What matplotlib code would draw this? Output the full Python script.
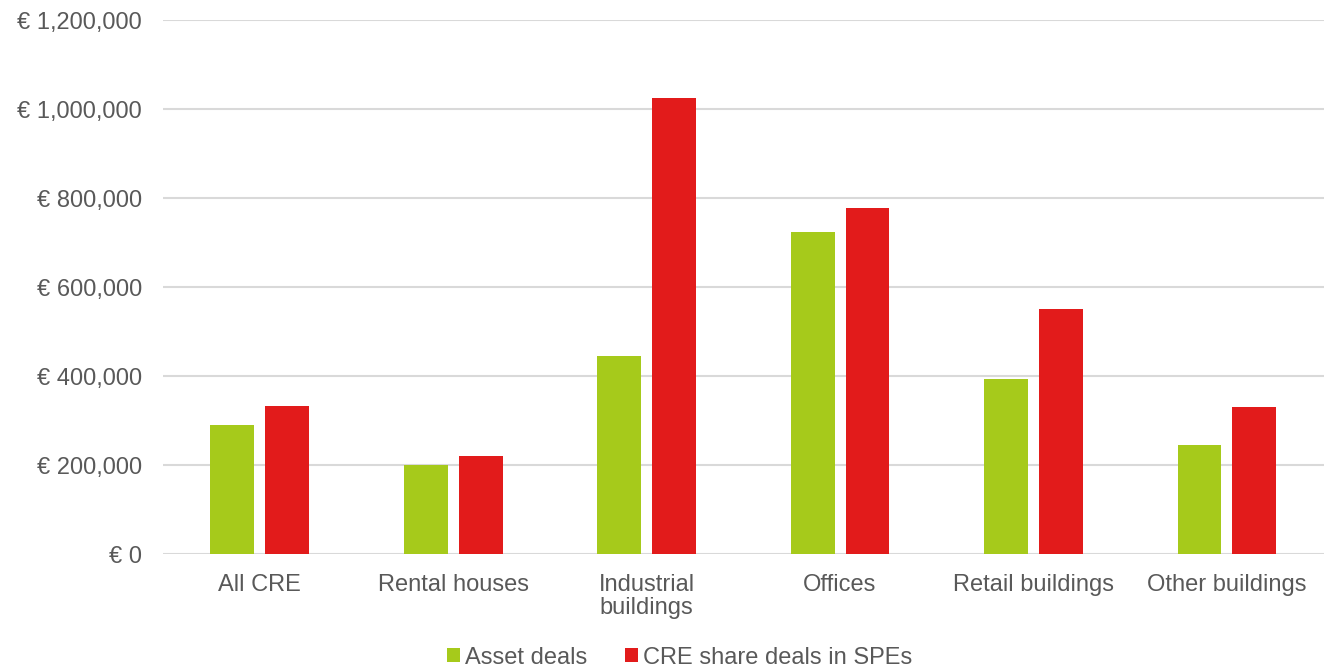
import numpy as np
import matplotlib.pyplot as plt
from matplotlib.ticker import FuncFormatter

plt.rcParams['font.family'] = ['Liberation Sans', 'DejaVu Sans']

categories = ["All CRE", "Rental houses", "Industrial\nbuildings", "Offices",
              "Retail buildings", "Other buildings"]
asset_deals = [291000, 200000, 445000, 723000, 394000, 245000]
share_deals = [334000, 220000, 1025000, 778000, 552000, 330000]
series_labels = ["Asset deals", "CRE share deals in SPEs"]

green = "#A6CA1B"
red = "#E21B1B"
text_col = "#595959"
grid_col = "#D9D9D9"

fig = plt.figure(figsize=(13.25, 6.71), dpi=100)
ax = fig.add_axes([0.123, 0.174, 0.876, 0.796])

x = np.arange(len(categories))
w = 0.227
off = 0.142
b1 = ax.bar(x - off, asset_deals, w, color=green, label=series_labels[0], zorder=3)
b2 = ax.bar(x + off, share_deals, w, color=red, label=series_labels[1], zorder=3)

ax.set_xlim(-0.5, len(categories) - 0.5)
ax.set_ylim(0, 1200000)
ax.set_yticks(np.arange(0, 1200001, 200000))
ax.yaxis.set_major_formatter(FuncFormatter(lambda v, p: f"€ {int(v):,}"))
ax.grid(axis='y', color=grid_col, linewidth=1.5, zorder=0)
for s in ax.spines.values():
    s.set_visible(False)
ax.tick_params(axis='both', length=0, labelsize=17, labelcolor=text_col)
ax.tick_params(axis='y', pad=15)
ax.tick_params(axis='x', pad=14)
ax.set_xticks(x)
ax.set_xticklabels(categories, linespacing=1.05)

fig.legend(handles=[b1, b2], labels=series_labels, loc='lower center',
           bbox_to_anchor=(0.513, -0.028), ncol=2, frameon=False, fontsize=17,
           labelcolor=text_col, handlelength=0.55, handleheight=0.55,
           handletextpad=0.2, columnspacing=1.6)

fig.savefig("out.png", dpi=100)
